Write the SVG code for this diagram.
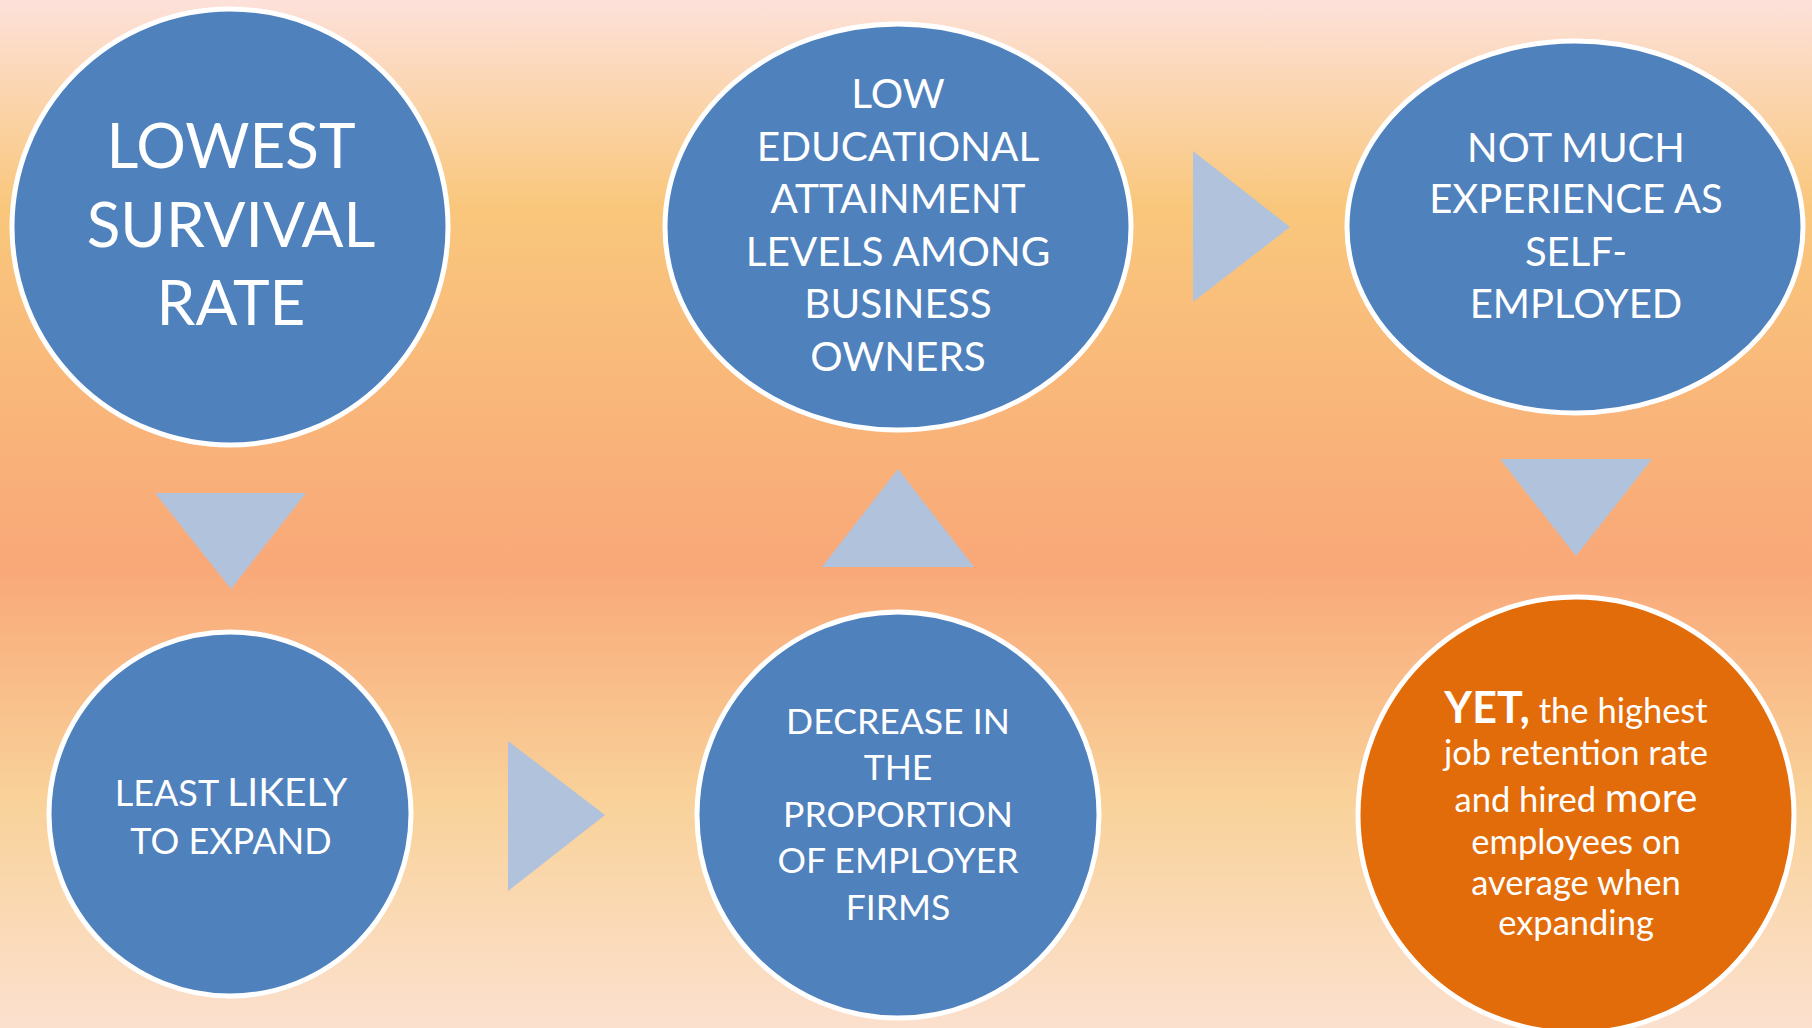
<svg xmlns="http://www.w3.org/2000/svg" width="1812" height="1028" viewBox="0 0 1812 1028">
<defs>
<linearGradient id="bg" x1="0" y1="0" x2="0" y2="1">
<stop offset="0" stop-color="#FDE1DA"/>
<stop offset="0.2" stop-color="#F9C77C"/>
<stop offset="0.55" stop-color="#F9A878"/>
<stop offset="0.78" stop-color="#F9D29A"/>
<stop offset="1" stop-color="#FBE0CE"/>
</linearGradient>
<style>
.blue{fill:#4F81BD;stroke:#FFFFFF;stroke-width:5}
.orange{fill:#E36C0A;stroke:#FFFFFF;stroke-width:5}
.arrow{fill:#B1C2DD}
text{font-family:Lato,"Open Sans","Liberation Sans",sans-serif;fill:#FFFFFF;text-anchor:middle}
</style>
</defs>
<rect x="0" y="0" width="1812" height="1028" fill="url(#bg)"/>
<g id="connectors">
<polygon class="arrow" points="155,493 306,493 231,589"/>
<polygon class="arrow" points="508,741 605,815 508,891"/>
<polygon class="arrow" points="822,567 898,469 974,567"/>
<polygon class="arrow" points="1193,151 1290,227 1193,302"/>
<polygon class="arrow" points="1500,459 1652,459 1576,556"/>
</g>
<g id="node-lowest-survival">
<ellipse class="blue" cx="230" cy="227" rx="218" ry="218"/>
<text font-size="62"><tspan x="231" y="168">LOWEST</tspan><tspan x="231" y="247">SURVIVAL</tspan><tspan x="231" y="325">RATE</tspan></text>
</g>
<g id="node-least-likely">
<ellipse class="blue" cx="230" cy="814" rx="181" ry="182"/>
<text font-size="36"><tspan x="231" y="806">LEAST <tspan font-size="39">LIKELY</tspan></tspan><tspan x="231" y="854">TO EXPAND</tspan></text>
</g>
<g id="node-decrease">
<ellipse class="blue" cx="898" cy="815" rx="201" ry="203"/>
<text font-size="35.6"><tspan x="898" y="734">DECREASE IN</tspan><tspan x="898" y="780">THE</tspan><tspan x="898" y="827">PROPORTION</tspan><tspan x="898" y="873">OF EMPLOYER</tspan><tspan x="898" y="920">FIRMS</tspan></text>
</g>
<g id="node-low-education">
<ellipse class="blue" cx="898" cy="227" rx="233" ry="203"/>
<text font-size="40.5"><tspan x="898" y="108">LOW</tspan><tspan x="898" y="161">EDUCATIONAL</tspan><tspan x="898" y="213">ATTAINMENT</tspan><tspan x="898" y="266">LEVELS AMONG</tspan><tspan x="898" y="318">BUSINESS</tspan><tspan x="898" y="371">OWNERS</tspan></text>
</g>
<g id="node-not-much-experience">
<ellipse class="blue" cx="1575" cy="227" rx="228" ry="186"/>
<text font-size="40"><tspan x="1576" y="162">NOT MUCH</tspan><tspan x="1576" y="213">EXPERIENCE AS</tspan><tspan x="1576" y="266">SELF-</tspan><tspan x="1576" y="318">EMPLOYED</tspan></text>
</g>
<g id="node-yet">
<ellipse class="orange" cx="1576" cy="815" rx="218" ry="218"/>
<text font-size="34.5"><tspan x="1576" y="723"><tspan font-weight="bold" font-size="43">YET,</tspan> the highest</tspan><tspan x="1576" y="765">job retention rate</tspan><tspan x="1576" y="812">and hired <tspan font-size="41">more</tspan></tspan><tspan x="1576" y="854">employees on</tspan><tspan x="1576" y="895">average when</tspan><tspan x="1576" y="935">expanding</tspan></text>
</g>
</svg>
